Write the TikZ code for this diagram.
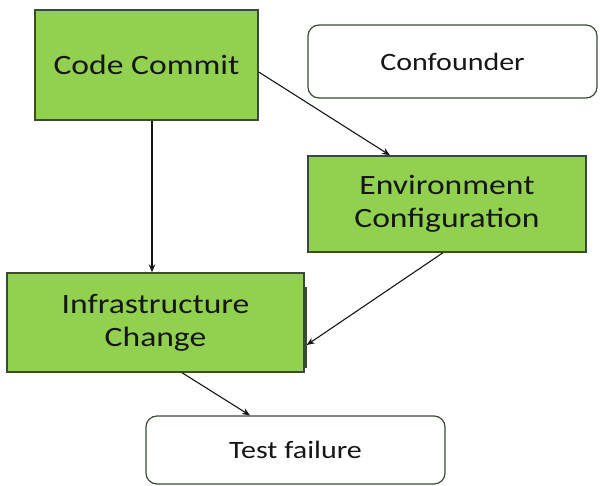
\documentclass[tikz,border=0pt]{standalone}
\usepackage{fontspec}
\setmainfont[FakeStretch=1.2]{Carlito}
\usetikzlibrary{arrows.meta}

\definecolor{boxgreen}{HTML}{92D050}
\definecolor{boxedge}{HTML}{3A4A38}
\definecolor{inkdark}{HTML}{161616}

\tikzset{
  cause/.style={draw=boxedge, line width=1.4pt, fill=boxgreen, inner sep=0pt,
    align=center, text=inkdark, font=\fontsize{28}{33}\selectfont},
  outcome/.style={draw=boxedge, line width=1.2pt, fill=white, rounded corners=11pt,
    inner sep=0pt, align=center, text=inkdark, font=\fontsize{25}{30}\selectfont},
  link/.style={draw=inkdark, line width=1.1pt, -{Stealth[length=8pt,width=6.5pt]}}
}

\begin{document}
\begin{tikzpicture}[x=1pt, y=-1pt]
  \useasboundingbox (0,0) rectangle (600,486);

  % causal factors
  \node[cause, minimum width=223pt, minimum height=110pt] (commit) at (146.5,65) {Code Commit};
  \node[cause, minimum width=278pt, minimum height=96pt] (env) at (447,204) {Environment\\Configuration};
  \node[cause, minimum width=297pt, minimum height=99pt] (infra) at (155.5,322.5) {Infrastructure\\Change};

  % rounded boxes
  \node[outcome, minimum width=289pt, minimum height=73pt] (conf) at (452.5,61.5) {Confounder};
  \node[outcome, minimum width=299pt, minimum height=68pt] (fail) at (295.5,450) {Test failure};

  % heavier stroke on the right side of the infrastructure box
  \draw[boxedge, line width=2.4pt] ([xshift=1.5pt, yshift=-15pt]infra.north east) -- ([xshift=1.5pt, yshift=5pt]infra.south east);

  % connectors
  \draw[link] ([xshift=5.5pt]commit.south) -- ([xshift=5.5pt]commit.south |- infra.north);
  \draw[link] ([yshift=-7pt]commit.east) -- ([xshift=-57pt]env.north);
  \draw[link] ([xshift=-4pt]env.south) -- ([xshift=2pt, yshift=-22.5pt]infra.east);
  \draw[link] ([xshift=26.5pt]infra.south) -- ([xshift=-45.5pt]fail.north);
\end{tikzpicture}
\end{document}
